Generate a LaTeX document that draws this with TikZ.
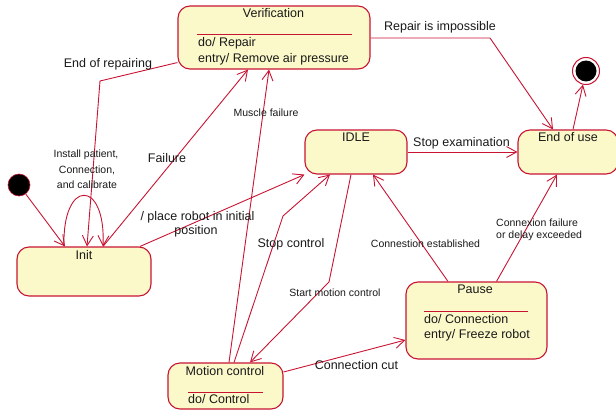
\documentclass[tikz,border=0pt]{standalone}
\usepackage{fontspec}
\setmainfont{Liberation Sans}
\usetikzlibrary{arrows.meta}

\definecolor{umlred}{RGB}{200,20,50}
\definecolor{umlfill}{RGB}{251,249,201}
\definecolor{umltext}{RGB}{25,25,25}

\tikzset{
  state/.style={draw=umlred, fill=umlfill, rounded corners=12pt, line width=1.1pt, inner sep=0pt},
  trans/.style={draw=umlred, line width=0.9pt, -{Straight Barb[length=10pt,width=11pt]}},
  sepline/.style={draw=umlred, line width=1pt},
  bigtxt/.style={text=umltext, font=\fontsize{12.5}{15}\selectfont, inner sep=0pt},
  smalltxt/.style={text=umltext, font=\fontsize{10.5}{13}\selectfont, inner sep=0pt},
}

\begin{document}
\begin{tikzpicture}[x=1pt, y=-1pt] % pixel units, y pointing down

    \useasboundingbox (0,0) rectangle (616,412);

    % States (centres and sizes)
    \node[state, minimum width=192pt, minimum height=63pt] (verif) at (274,37.5) {};
    \node[state, minimum width=134pt, minimum height=49pt] (init) at (84,271.5) {};
    \node[state, minimum width=102pt, minimum height=44pt] (idle) at (356,152) {};
    \node[state, minimum width=100pt, minimum height=44pt] (endu) at (568,152) {};
    \node[state, minimum width=141pt, minimum height=77pt] (pause) at (476.5,320.5) {};
    \node[state, minimum width=115pt, minimum height=46pt] (motion) at (225.5,386) {};

    % Initial and final pseudo states
    \node[circle, fill=black, draw=umlred, line width=0.6pt, minimum size=22pt, inner sep=0pt] (start) at (19,185) {};
    \node[circle, fill=white, draw=umlred, line width=1pt, minimum size=27pt, inner sep=0pt] (final) at (586,71) {};
    \node[circle, fill=black, minimum size=21pt, inner sep=0pt] (finaldot) at (final) {};

    % State names
    \node[bigtxt, anchor=base] (veriftitle) at (273.5,18) {Verification};
    \node[bigtxt, anchor=base] (inittitle) at (84,259) {Init};
    \node[bigtxt, anchor=base] (idletitle) at (356,141) {IDLE};
    \node[bigtxt, anchor=base] (endutitle) at (568,141) {End of use};
    \node[bigtxt, anchor=base] (pausetitle) at (475,293) {Pause};
    \node[bigtxt, anchor=base] (motiontitle) at (225,375) {Motion control};

    % Compartments
    \draw[sepline] (197,35) -- (352,35);
    \node[bigtxt, anchor=base west] (verifdo) at (198,47) {do/ Repair};
    \node[bigtxt, anchor=base west] (verifentry) at (198,63) {entry/ Remove air pressure};
    \draw[sepline] (424,311) -- (528,311);
    \node[bigtxt, anchor=base west] (pausedo) at (424,323) {do/ Connection};
    \node[bigtxt, anchor=base west] (pauseentry) at (424,338) {entry/ Freeze robot};
    \draw[sepline] (188,392) -- (263,392);
    \node[bigtxt, anchor=base west] (motiondo) at (188,403) {do/ Control};

    % Bend points
    \coordinate (bendrep) at (100,81);
    \coordinate (bendstop) at (283,216);
    \coordinate (bendstart) at (329,282);
    \coordinate (bendimp) at (490,38);

    % Transitions
    \draw[trans] (start) -- ([xshift=-19pt]init.north);
    \draw[trans] ([xshift=-20pt]init.north) .. controls +(-2,-68) and +(3,-68) .. ([xshift=19pt]init.north);
    \draw[trans] ([yshift=7pt]verif.south west) -- (bendrep) -- ([xshift=3pt]init.north);
    \draw[trans] ([xshift=19pt]init.north) -- ([xshift=-26pt]verif.south);
    \draw[trans] ([xshift=56pt]init.north) -- (idle.south west);
    \draw[trans] ([xshift=3.5pt]motion.north) -- ([xshift=-5pt]verif.south);
    \draw[trans] ([xshift=8.5pt]motion.north) -- (bendstop) -- ([xshift=-26pt]idle.south);
    \draw[trans] ([xshift=-5pt]idle.south) -- (bendstart) -- ([xshift=24.5pt]motion.north);
    \draw[trans] ([yshift=14pt]motion.east) -- ([yshift=-19.5pt]pause.west);
    \draw[trans] ([xshift=-28.5pt]pause.north) -- ([xshift=17pt]idle.south);
    \draw[trans] ([xshift=20pt]pause.north) -- ([xshift=-11pt]endu.south);
    \draw[trans] (idle.east) -- (endu.west);
    \draw[trans] ([yshift=-0.5pt]verif.east) -- (bendimp) -- ([xshift=-15pt]endu.north);
    \draw[trans] ([xshift=5pt]endu.north) -- (final);

    % Transition labels
    \node[bigtxt, anchor=base] (lbrepairing) at (108,67) {End of repairing};
    \node[bigtxt, anchor=base] (lbfailure) at (167,162) {Failure};
    \node[smalltxt, anchor=base] (lbinstalla) at (86,157) {Install patient,};
    \node[smalltxt, anchor=base] (lbinstallb) at (87,173) {Connection,};
    \node[smalltxt, anchor=base] (lbinstallc) at (87,188) {and calibrate};
    \node[bigtxt, anchor=base] (lbplacea) at (197.5,220) {/ place robot in initial};
    \node[bigtxt, anchor=base] (lbplaceb) at (196,234) {position};
    \node[smalltxt, anchor=base] (lbmuscle) at (266,117) {Muscle failure};
    \node[bigtxt, anchor=base] (lbstopctl) at (291,247) {Stop control};
    \node[smalltxt, anchor=base] (lbstartmc) at (335,296) {Start motion control};
    \node[bigtxt, anchor=base] (lbcut) at (356.5,369) {Connection cut};
    \node[smalltxt, anchor=base] (lbestab) at (425.5,247) {Connestion established};
    \node[smalltxt, anchor=base west] (lbconnfaila) at (496,226) {Connexion failure};
    \node[smalltxt, anchor=base west] (lbconnfailb) at (496,238) {or delay exceeded};
    \node[bigtxt, anchor=base] (lbstopexam) at (461.5,146) {Stop examination};
    \node[bigtxt, anchor=base] (lbimpossible) at (440,31) {Repair is impossible};

\end{tikzpicture}
\end{document}
